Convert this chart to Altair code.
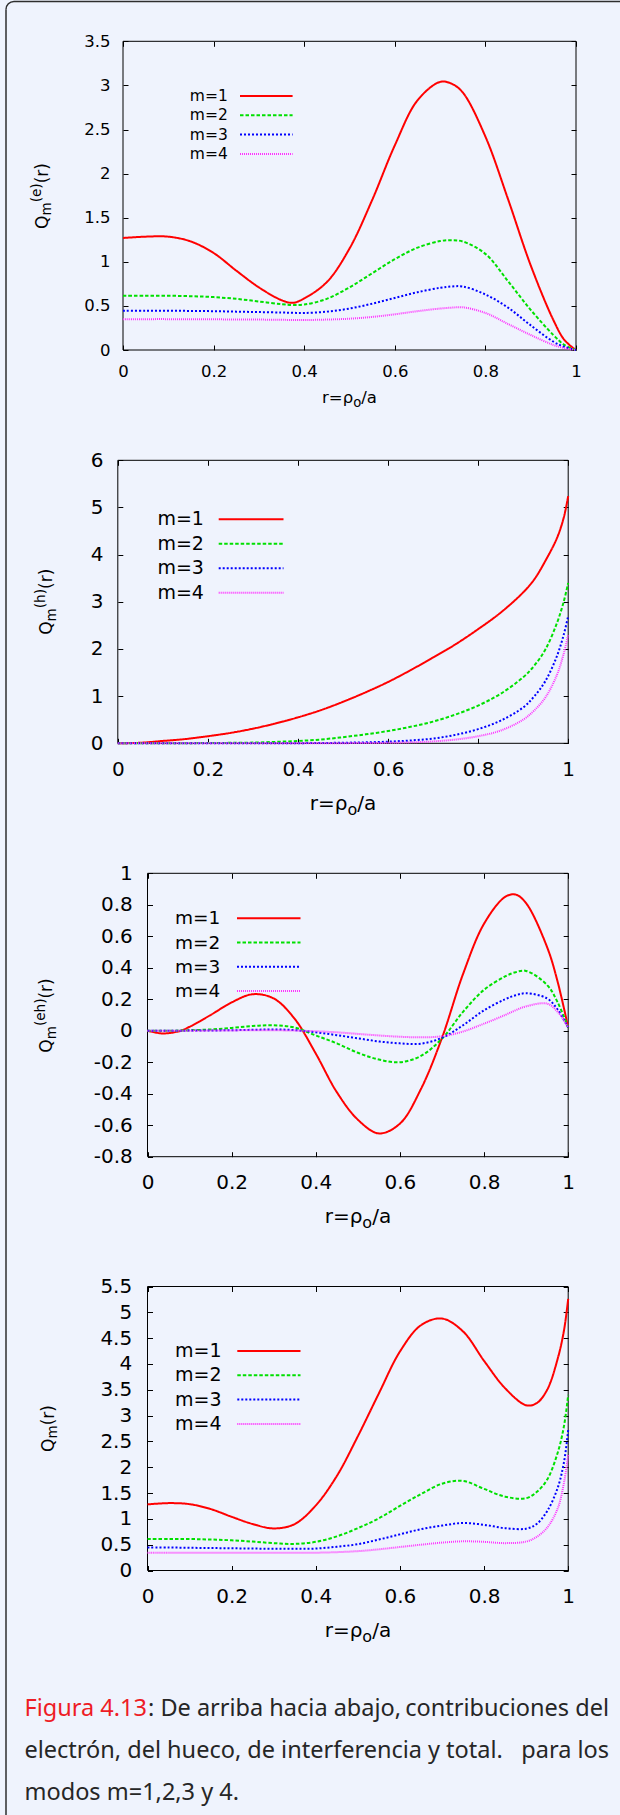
import altair as alt
import pandas as pd

# ---------------------------------------------------------------- styling
BG = "#eff3fd"
FRAME = "#2e2e2e"
INK = "#262626"
RED_TXT = "#ee1c25"
PLOT_FONT = "DejaVu Sans"
TEXT_FONT = "Noto Sans"
PAGE_W, PAGE_H = 620, 1815

SERIES = ["m=1", "m=2", "m=3", "m=4"]
COLORS = ["#ff0000", "#00e000", "#0000ff", "#ff33ff"]
DASHES = [[1, 0], [3.5, 2], [2, 2], [1, 1]]

X_TICKS = [0, 0.2, 0.4, 0.6, 0.8, 1]

# ---------------------------------------------------------------- electron term Q_m^(e)
R_E = [0, 0.05, 0.1, 0.15, 0.2, 0.25, 0.3, 0.35, 0.375, 0.4, 0.45, 0.5,
       0.55, 0.6, 0.65, 0.7, 0.725, 0.75, 0.8, 0.85, 0.9, 0.95, 0.975, 1.0]
E_M1 = [1.27, 1.285, 1.285, 1.23, 1.10, 0.90, 0.71, 0.565, 0.535, 0.585, 0.77, 1.15,
        1.70, 2.32, 2.83, 3.04, 3.02, 2.92, 2.42, 1.71, 0.96, 0.34, 0.11, 0.0]
E_M2 = [0.615, 0.615, 0.615, 0.61, 0.60, 0.58, 0.55, 0.52, 0.51, 0.515, 0.58, 0.71,
        0.87, 1.03, 1.16, 1.235, 1.245, 1.23, 1.09, 0.78, 0.455, 0.17, 0.055, 0.0]
E_M3 = [0.445, 0.445, 0.445, 0.443, 0.44, 0.435, 0.43, 0.425, 0.422, 0.42, 0.435, 0.47,
        0.525, 0.59, 0.655, 0.705, 0.72, 0.72, 0.63, 0.48, 0.28, 0.094, 0.035, 0.0]
E_M4 = [0.35, 0.35, 0.35, 0.349, 0.348, 0.346, 0.345, 0.342, 0.341, 0.34, 0.345, 0.355,
        0.375, 0.405, 0.44, 0.47, 0.48, 0.484, 0.42, 0.295, 0.17, 0.057, 0.02, 0.0]

# ---------------------------------------------------------------- hole term Q_m^(h)
R_H = [0, 0.05, 0.1, 0.15, 0.2, 0.25, 0.3, 0.35, 0.4, 0.45, 0.5, 0.55,
       0.6, 0.65, 0.7, 0.75, 0.8, 0.85, 0.9, 0.925, 0.95, 0.975, 0.99, 1.0]
H_M1 = [0, 0.012, 0.05, 0.09, 0.15, 0.22, 0.31, 0.42, 0.55, 0.70, 0.88, 1.08,
        1.30, 1.55, 1.82, 2.10, 2.42, 2.77, 3.20, 3.48, 3.88, 4.35, 4.78, 5.24]
H_M2 = [0, 0, 0.001, 0.003, 0.005, 0.01, 0.015, 0.03, 0.05, 0.08, 0.13, 0.19,
        0.26, 0.35, 0.46, 0.61, 0.80, 1.05, 1.40, 1.65, 2.0, 2.55, 3.0, 3.4]
H_M3 = [0, 0, 0, 0, 0, 0.001, 0.002, 0.002, 0.003, 0.006, 0.012, 0.02,
        0.035, 0.06, 0.10, 0.18, 0.30, 0.48, 0.76, 1.0, 1.33, 1.85, 2.3, 2.7]
H_M4 = [0, 0, 0, 0, 0, 0, 0, 0, 0.001, 0.002, 0.003, 0.006,
        0.01, 0.02, 0.04, 0.08, 0.15, 0.27, 0.5, 0.7, 0.98, 1.45, 1.9, 2.3]

# ---------------------------------------------------------------- interference term Q_m^(eh)
R_EH = [0, 0.035, 0.075, 0.1, 0.15, 0.2, 0.25, 0.3, 0.35, 0.4, 0.45, 0.5,
        0.55, 0.6, 0.65, 0.7, 0.75, 0.8, 0.85, 0.875, 0.9, 0.95, 0.975, 1.0]
EH_M1 = [0, -0.017, -0.003, 0.025, 0.10, 0.18, 0.232, 0.205, 0.075, -0.145, -0.39, -0.565,
         -0.652, -0.59, -0.37, -0.045, 0.36, 0.68, 0.85, 0.865, 0.81, 0.53, 0.31, 0.02]
EH_M2 = [0, 0, 0.001, 0.003, 0.008, 0.018, 0.03, 0.035, 0.02, -0.03, -0.08, -0.14,
         -0.183, -0.2, -0.16, -0.05, 0.12, 0.26, 0.345, 0.372, 0.38, 0.29, 0.18, 0.02]
EH_M3 = [0, 0, 0, 0.001, 0.002, 0.003, 0.006, 0.008, 0.004, -0.01, -0.028, -0.048,
         -0.068, -0.08, -0.082, -0.045, 0.035, 0.13, 0.2, 0.225, 0.238, 0.205, 0.135, 0.02]
EH_M4 = [0, 0, 0, 0, 0.001, 0.002, 0.003, 0.003, 0.001, -0.003, -0.01, -0.02,
         -0.03, -0.038, -0.042, -0.035, -0.005, 0.045, 0.1, 0.13, 0.155, 0.172, 0.12, 0.02]

# ---------------------------------------------------------------- total Q_m
R_T = [0, 0.05, 0.1, 0.15, 0.2, 0.25, 0.3, 0.35, 0.4, 0.45, 0.5, 0.55,
       0.6, 0.65, 0.7, 0.75, 0.8, 0.85, 0.9, 0.925, 0.95, 0.975, 0.99, 1.0]
T_M1 = [1.28, 1.305, 1.285, 1.19, 1.04, 0.90, 0.815, 0.90, 1.26, 1.83, 2.60, 3.43,
        4.24, 4.75, 4.88, 4.63, 4.06, 3.53, 3.20, 3.24, 3.50, 4.10, 4.65, 5.26]
T_M2 = [0.61, 0.61, 0.61, 0.60, 0.585, 0.56, 0.53, 0.515, 0.555, 0.66, 0.82, 1.01,
        1.25, 1.48, 1.68, 1.735, 1.58, 1.43, 1.40, 1.52, 1.76, 2.28, 2.8, 3.4]
T_M3 = [0.445, 0.445, 0.44, 0.435, 0.43, 0.425, 0.42, 0.42, 0.425, 0.46, 0.51, 0.60,
        0.70, 0.80, 0.87, 0.92, 0.885, 0.82, 0.81, 0.90, 1.15, 1.60, 2.1, 2.72]
T_M4 = [0.343, 0.343, 0.343, 0.343, 0.343, 0.343, 0.343, 0.343, 0.345, 0.355, 0.375, 0.41,
        0.455, 0.5, 0.54, 0.565, 0.555, 0.53, 0.56, 0.65, 0.83, 1.2, 1.7, 2.24]

# ---------------------------------------------------------------- axis ticks / titles
Y_TICKS_E = [0, 0.5, 1, 1.5, 2, 2.5, 3, 3.5]
Y_TICKS_H = [0, 1, 2, 3, 4, 5, 6]
Y_TICKS_EH = [-0.8, -0.6, -0.4, -0.2, 0, 0.2, 0.4, 0.6, 0.8, 1]
Y_TICKS_T = [0, 0.5, 1, 1.5, 2, 2.5, 3, 3.5, 4, 4.5, 5, 5.5]

X_TITLE = [("r=ρ", None), ("o", "sub"), ("/a", None)]
Y_TITLE_E = [("Q", None), ("m", "sub"), ("(e)", "sup"), ("(r)", None)]
Y_TITLE_H = [("Q", None), ("m", "sub"), ("(h)", "sup"), ("(r)", None)]
Y_TITLE_EH = [("Q", None), ("m", "sub"), ("(eh)", "sup"), ("(r)", None)]
Y_TITLE_T = [("Q", None), ("m", "sub"), ("(r)", None)]

CAPTION = [
    ("Figura 4.13", 24.5, 1715.7, "left", RED_TXT),
    (": De arriba hacia abajo,", 148, 1715.7, "left", INK),
    ("contribuciones del", 609, 1715.7, "right", INK),
    ("electrón, del hueco, de interferencia", 24.5, 1757.7, "left", INK),
    ("y total.", 428, 1757.7, "left", INK),
    ("para los", 609, 1757.7, "right", INK),
    ("modos m=1,2,3 y 4.", 24.5, 1799.5, "left", INK),
]

# advance widths (em) of DejaVu Sans glyphs used to lay out composite titles
ADV = {"Q": 0.787, "m": 0.974, "(": 0.390, ")": 0.390, "e": 0.615, "h": 0.634,
       "r": 0.411, "=": 0.838, "ρ": 0.636, "o": 0.612, "/": 0.337, "a": 0.613}

ONE = pd.DataFrame({"k": [0]})


def long_frame(r, cols):
    rows = []
    for name, vals in zip(SERIES, cols):
        for rv, q in zip(r, vals):
            rows.append({"r": rv, "q": q, "m": name})
    return pd.DataFrame(rows)


def text_width(s, size):
    return sum(ADV.get(c, 0.6) for c in s) * size


def put_text(txt, x, y, size, font=PLOT_FONT, color="black", angle=0,
             align="left", baseline="alphabetic"):
    kw = dict(text=txt, font=font, fontSize=size, color=color, align=align, baseline=baseline)
    if angle:
        kw["angle"] = angle
    return alt.Chart(ONE).mark_text(**kw).encode(x=alt.value(x), y=alt.value(y))


def bar(x1, x2, y1, y2, color=FRAME):
    return alt.Chart(ONE).mark_rect(color=color).encode(
        x=alt.value(x1), x2=alt.value(x2), y=alt.value(y1), y2=alt.value(y2))


# plot boxes are given in page pixels: (left, top, width, height)
PANELS = [
    dict(df=long_frame(R_E, [E_M1, E_M2, E_M3, E_M4]), box=(123, 41.3, 453, 308.7),
         ydom=[0, 3.5], yticks=Y_TICKS_E, tick=16.5, padx=13, pady=13,
         xt_size=16.5, xt_center=349.5, xt_base=403.3,
         ytitle=Y_TITLE_E, yt_center=196, yt_base=47.5,
         legend=dict(tx=189.8, x1=240, x2=292.6, y0=96, dy=19.3, size=15.5)),
    dict(df=long_frame(R_H, [H_M1, H_M2, H_M3, H_M4]), box=(117.8, 460.3, 450.4, 283),
         ydom=[0, 6], yticks=Y_TICKS_H, tick=20, padx=16, pady=14.7,
         xt_size=20, xt_center=343, xt_base=810,
         ytitle=Y_TITLE_H, yt_center=601.8, yt_base=52,
         legend=dict(tx=157.4, x1=218.7, x2=283.5, y0=519.3, dy=24.45, size=19)),
    dict(df=long_frame(R_EH, [EH_M1, EH_M2, EH_M3, EH_M4]), box=(147.5, 873.3, 420.7, 283.4),
         ydom=[-0.8, 1], yticks=Y_TICKS_EH, tick=20, padx=15.8, pady=15.2,
         xt_size=20, xt_center=357.9, xt_base=1223.3,
         ytitle=Y_TITLE_EH, yt_center=1015.5, yt_base=52,
         legend=dict(tx=175, x1=237, x2=300.5, y0=918.3, dy=24.25, size=18.5)),
    dict(df=long_frame(R_T, [T_M1, T_M2, T_M3, T_M4]), box=(147.5, 1286.5, 420.7, 284),
         ydom=[0, 5.5], yticks=Y_TICKS_T, tick=20, padx=16.2, pady=15.8,
         xt_size=20, xt_center=357.9, xt_base=1637,
         ytitle=Y_TITLE_T, yt_center=1428.5, yt_base=53.5,
         legend=dict(tx=175, x1=237.3, x2=300.5, y0=1351, dy=24.3, size=19)),
]

YT_SIZE = 17
TICK = 5


def panel_layers(p):
    L, T, W, H = p["box"]
    R, B = L + W, T + H
    xs = alt.Scale(domain=[0, 1], range=[L, R], nice=False, zero=False)
    ys = alt.Scale(domain=p["ydom"], range=[B, T], nice=False, zero=False)
    # axes are moved onto the plot box and pulled inside it by the tick length
    common = dict(tickSize=TICK, domain=False, grid=False,
                  tickColor="black", tickWidth=1, title=None)
    lab = dict(labelFont=PLOT_FONT, labelFontSize=p["tick"], labelColor="black",
               labelFlush=False, labelOverlap=False, labelExpr="datum.value + ''")
    x_bottom = alt.Axis(orient="bottom", values=X_TICKS, offset=B - TICK - PAGE_H,
                        labelPadding=p["padx"], **lab, **common)
    y_left = alt.Axis(orient="left", values=p["yticks"], offset=-(L + TICK),
                      labelPadding=p["pady"], **lab, **common)
    x_top = alt.Axis(orient="top", values=X_TICKS, offset=-(T + TICK), labels=False, **common)
    y_right = alt.Axis(orient="right", values=p["yticks"], offset=R - TICK - PAGE_W,
                       labels=False, **common)

    color = alt.Color("m:N", scale=alt.Scale(domain=SERIES, range=COLORS), legend=None)
    dash = alt.StrokeDash("m:N", scale=alt.Scale(domain=SERIES, range=DASHES), legend=None)

    frame = alt.Chart(ONE).mark_rect(fillOpacity=0, stroke="black", strokeWidth=1).encode(
        x=alt.value(L), x2=alt.value(R), y=alt.value(T), y2=alt.value(B))
    curves = alt.Chart(p["df"]).mark_line(strokeWidth=2, interpolate="catmull-rom").encode(
        x=alt.X("r:Q", scale=xs, axis=x_bottom),
        y=alt.Y("q:Q", scale=ys, axis=y_left),
        color=color, strokeDash=dash)
    mirror = alt.Chart(p["df"]).mark_point(opacity=0).encode(
        x=alt.X("r:Q", scale=xs, axis=x_top),
        y=alt.Y("q:Q", scale=ys, axis=y_right))

    # key: label text followed by a line sample, one row per mode
    lg = p["legend"]
    keys = pd.DataFrame({"m": SERIES})
    key_y = alt.Y("m:N", axis=None, scale=alt.Scale(
        type="point", domain=SERIES, padding=0,
        range=[lg["y0"], lg["y0"] + 3 * lg["dy"]]))
    samples = alt.Chart(keys).mark_rule(strokeWidth=2).encode(
        x=alt.value(lg["x1"]), x2=alt.value(lg["x2"]), y=key_y,
        color=color, strokeDash=dash)
    names = alt.Chart(keys).mark_text(
        align="left", baseline="middle", font=PLOT_FONT, fontSize=lg["size"], color="black"
    ).encode(x=alt.value(lg["tx"]), y=key_y, text="m:N")

    # axis titles with sub/superscripts
    texts = []
    s = p["xt_size"]
    widths = [text_width(t, s * 0.8 if role else s) for t, role in X_TITLE]
    cx = p["xt_center"] - sum(widths) / 2
    for (t, role), w in zip(X_TITLE, widths):
        size = s * 0.8 if role else s
        shift = 0.25 * s if role == "sub" else 0
        texts.append(put_text(t, cx, p["xt_base"] + shift, size))
        cx += w
    s = YT_SIZE
    widths = [text_width(t, s * 0.8 if role else s) for t, role in p["ytitle"]]
    cy = p["yt_center"] + sum(widths) / 2
    for (t, role), w in zip(p["ytitle"], widths):
        size = s * 0.8 if role else s
        shift = {"sub": 0.22 * s, "sup": -0.4 * s}.get(role, 0)
        texts.append(put_text(t, p["yt_base"] + shift, cy, size, angle=270))
        cy -= w

    return [frame, curves, mirror, samples, names] + texts


# page frame: left rule, top rule and rounded corner
page = [
    bar(5.25, 6.75, 9.5, PAGE_H),
    bar(14, PAGE_W, 0.75, 2.25),
    alt.Chart(ONE).mark_point(
        shape="M-1,1A2,2 0 0 1 1,-1", size=64, filled=False, strokeWidth=1.5,
        color=FRAME, opacity=1).encode(x=alt.value(10), y=alt.value(5.5)),
]

layers = list(page)
for p in PANELS:
    layers += panel_layers(p)
for txt, x, y, align, col in CAPTION:
    layers.append(put_text(txt, x, y, 23.5, font=TEXT_FONT, color=col, align=align))

chart = (
    alt.layer(*layers)
    .resolve_scale(x="independent", y="independent")
    .properties(width=PAGE_W, height=PAGE_H, padding=0, background=BG,
                autosize=alt.AutoSizeParams(type="none"))
    .configure_view(stroke="transparent")
)

chart.save("out.html", embed_options={"renderer": "svg", "actions": False})
